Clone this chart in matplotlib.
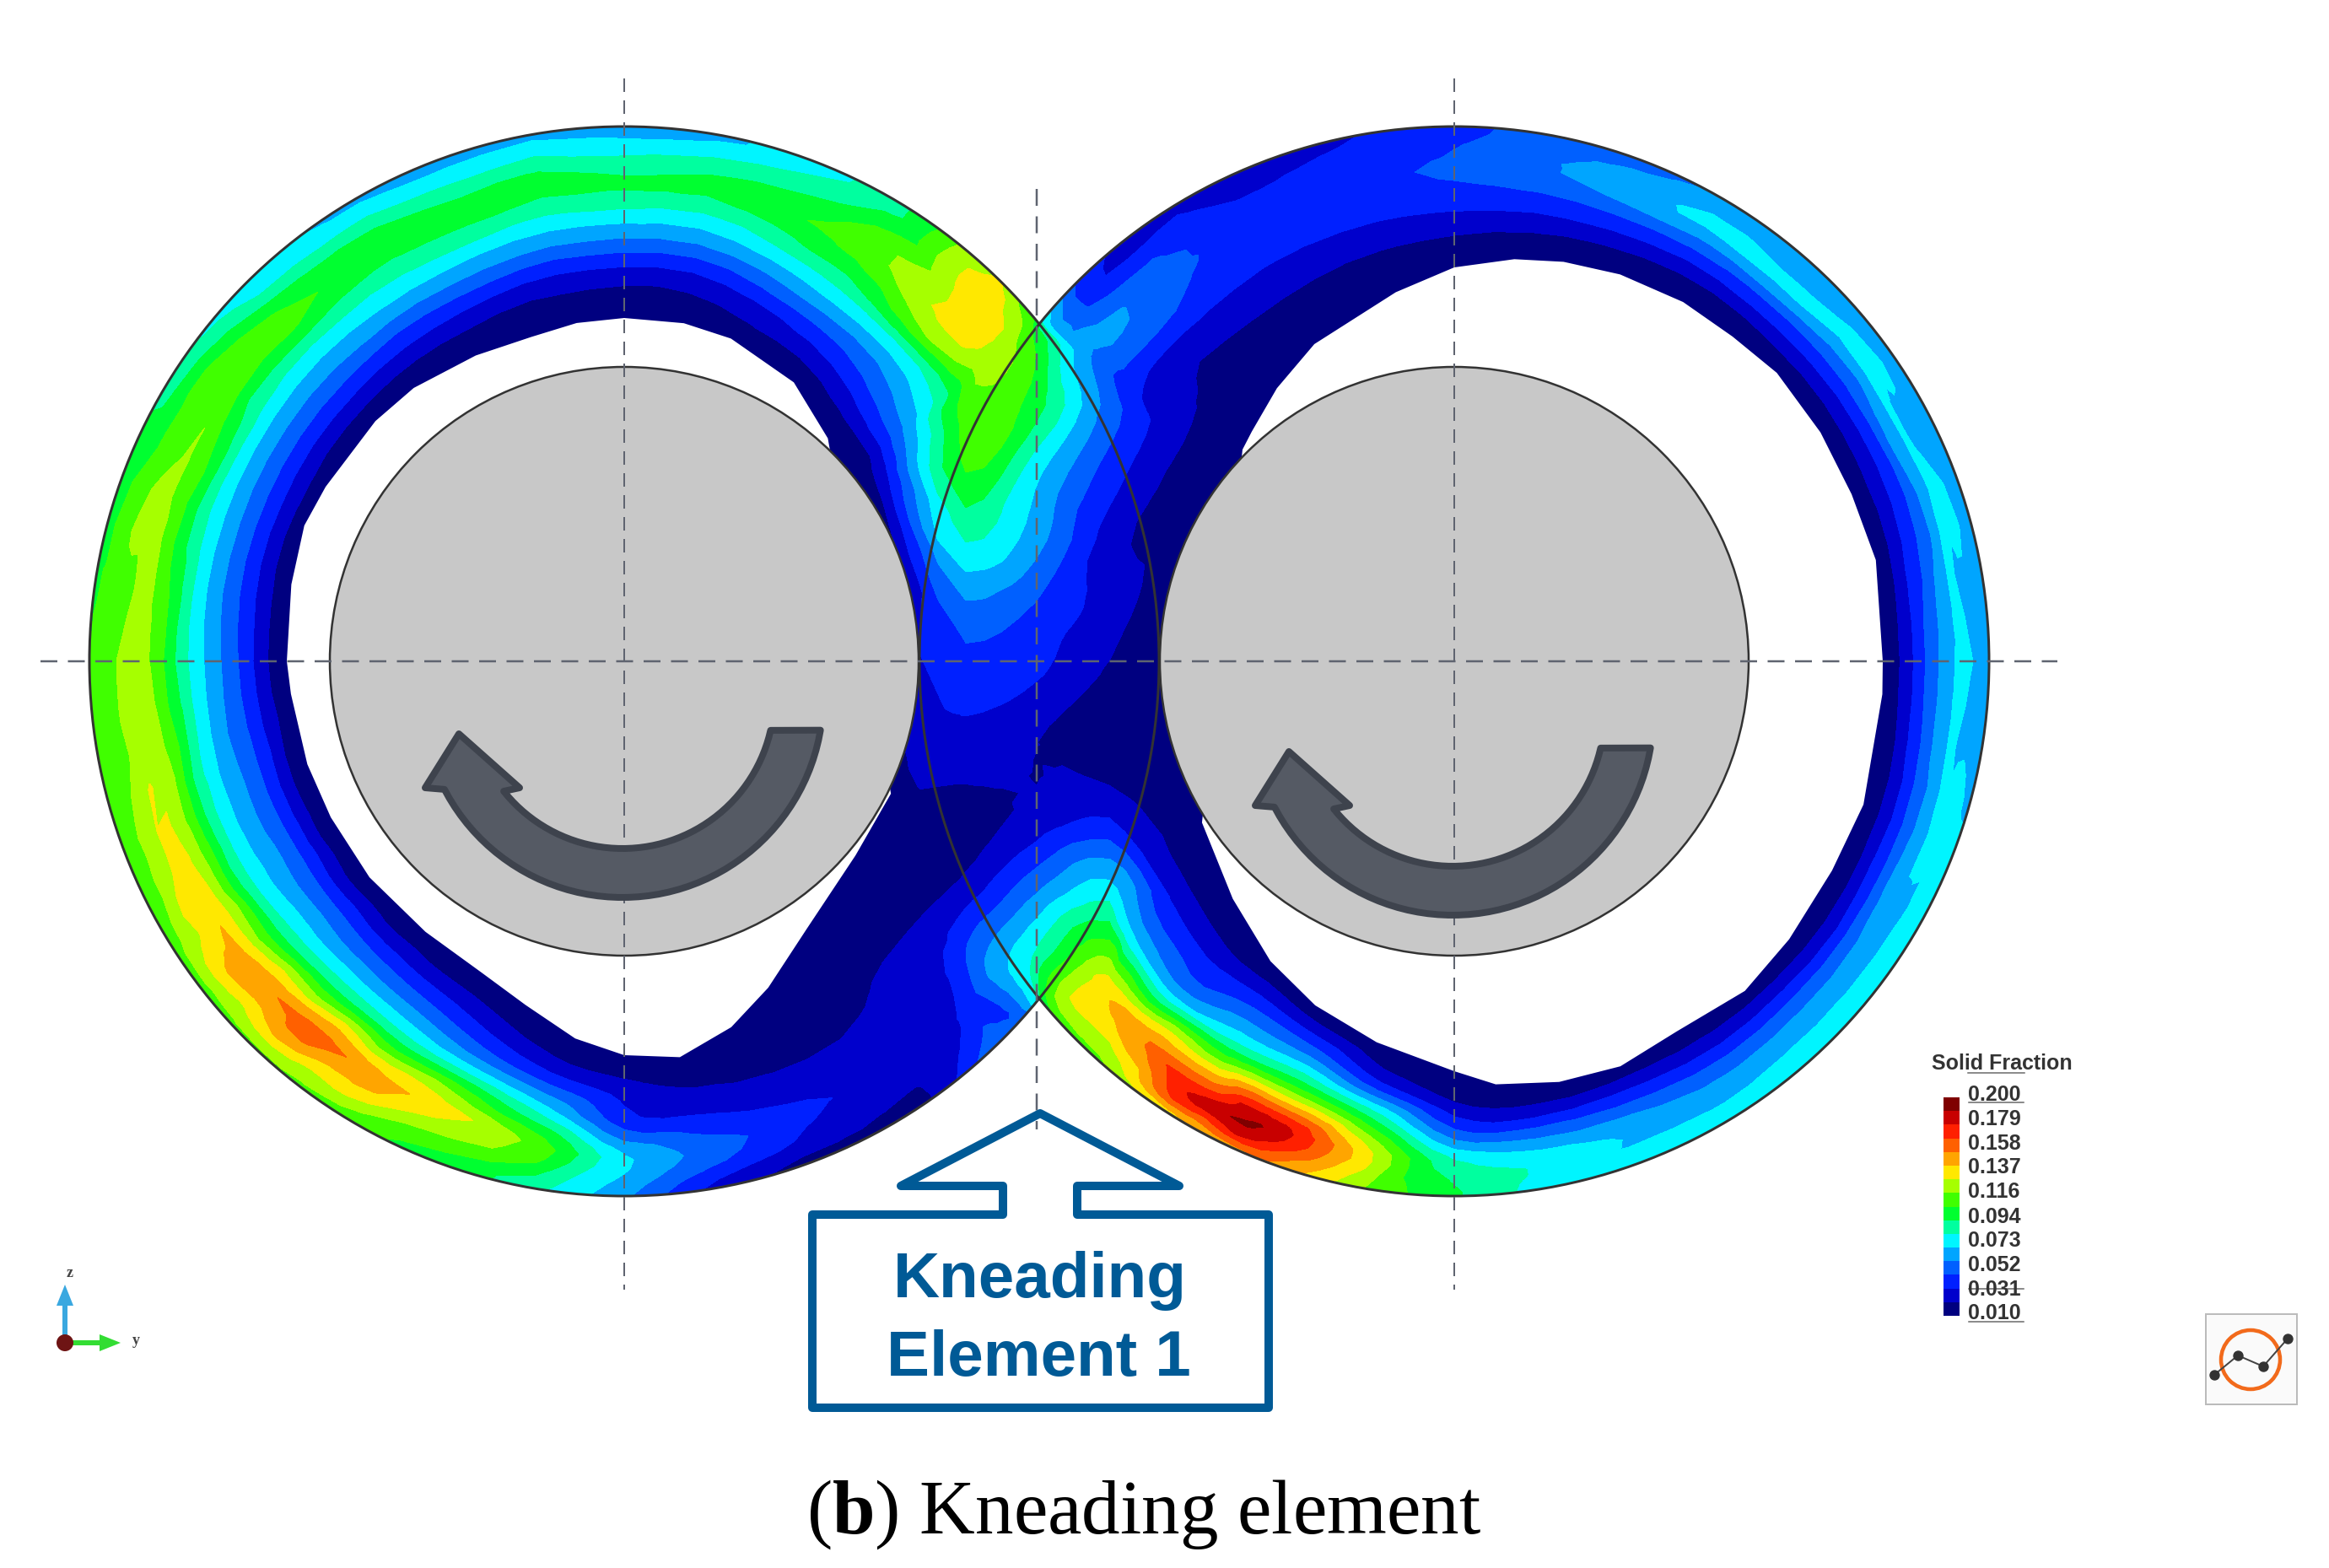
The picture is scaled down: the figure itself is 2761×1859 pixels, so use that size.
import numpy as np
import matplotlib
matplotlib.use("Agg")
import matplotlib.pyplot as plt
import matplotlib.tri as mtri
from matplotlib.colors import ListedColormap, BoundaryNorm
from matplotlib.patches import Circle, Polygon, Rectangle

plt.rcParams["font.family"] = ["Liberation Sans", "DejaVu Sans"]
plt.rcParams["mathtext.fontset"] = "custom"
plt.rcParams["mathtext.rm"] = "Liberation Serif"
plt.rcParams["mathtext.bf"] = "Liberation Serif:bold"

WIDTH, HEIGHT = 2761, 1859
PX = 0.72  # one picture pixel in points at dpi 100

# geometry, in pixels
left_cx, right_cx, mid_cx, cy = 740, 1724, 1229, 784
barrel_r, rotor_r = 634, 349

# *** solid fraction field ***
band_colors = ["#000080", "#0000cc", "#0020ff", "#0060ff", "#00a5ff", "#00f5ff",
               "#00ff9f", "#00ff30", "#40ff00", "#a6ff00", "#ffe800", "#ffa500",
               "#ff6000", "#ff2000", "#c80000", "#7f0000"]
band_edges = np.linspace(0.010, 0.200, 17)
legend_values = [0.200, 0.179, 0.158, 0.137, 0.116, 0.094, 0.073, 0.052, 0.031, 0.010]
legend_labels = ["0.200", "0.179", "0.158", "0.137", "0.116",
                 "0.094", "0.073", "0.052", "0.031", "0.010"]

# edge of the empty (white) zone, polar around each barrel centre
left_void_theta = [47.6, 58.7, 71.7, 80, 90, 98, 106, 115.9, 127.6, 136, 149.7, 157, 167, 180,
                   185.6, 198, 208, 220.3, 233.7, 245.4, 254, 262.6, 270, 278, 286.3,
                   293.8, 304.3, 320, 333.6]
left_void_r = [358, 387, 403, 407, 407, 405, 400, 403, 409, 410, 410, 412, 405, 400,
               397, 395, 394, 396, 398, 406, 424, 451, 467, 474, 452,
               423, 384, 358, 353]
right_void_theta = [135, 131.4, 123, 113.8, 99, 90, 81.5, 74.7, 66.8, 57.5, 49.4, 41.8,
                    32, 22.8, 13.5, 0, -4.4, -19.3, -29, -39.7, -48.6, -59, -67.7,
                    -76, -84.4, -90, -101.5, -112, -121.5, -133, -147.4]
right_void_r = [355, 363, 386, 411, 443, 467, 482, 491, 499, 505, 507, 513,
                512, 511, 514, 508, 509, 514, 512, 516, 521, 512, 519,
                514, 504, 486, 461, 440, 417, 385, 355]

# field values going from the void edge to the wall, at 0, 1/4, 1/2, 3/4, 1 of the gap
left_theta = [40, 60, 80, 100, 120, 140, 160, 180, 200, 210, 220, 230, 240, 260, 270, 280, 300, 320]
left_field = [
    [.010, .055, .090, .125, .105],
    [.010, .040, .082, .112, .085],
    [.010, .031, .069, .096, .066],
    [.010, .031, .070, .097, .066],
    [.010, .038, .076, .099, .066],
    [.010, .044, .078, .112, .078],
    [.010, .046, .081, .120, .100],
    [.010, .046, .081, .122, .105],
    [.010, .048, .080, .130, .108],
    [.010, .050, .082, .138, .110],
    [.010, .050, .088, .148, .112],
    [.010, .046, .090, .158, .115],
    [.010, .042, .085, .145, .108],
    [.010, .030, .072, .112, .085],
    [.010, .028, .042, .072, .060],
    [.010, .021, .036, .052, .030],
    [.010, .016, .022, .031, .018],
    [.010, .012, .032, .060, .072],
]
right_theta = [140, 120, 100, 80, 60, 40, 20, 0, -20, -40, -60, -80, -90, -100, -110, -120, -130, -140]
right_field = [
    [.010, .024, .036, .058, .075],
    [.010, .018, .034, .044, .030],
    [.010, .020, .036, .043, .034],
    [.010, .024, .043, .056, .050],
    [.010, .024, .048, .072, .058],
    [.010, .028, .050, .072, .060],
    [.010, .028, .048, .072, .062],
    [.010, .030, .055, .072, .062],
    [.010, .028, .052, .072, .070],
    [.010, .028, .052, .068, .074],
    [.010, .028, .050, .066, .074],
    [.010, .026, .055, .078, .076],
    [.010, .022, .050, .085, .095],
    [.010, .034, .090, .132, .118],
    [.010, .050, .105, .178, .150],
    [.010, .045, .088, .158, .140],
    [.010, .032, .064, .148, .118],
    [.010, .032, .072, .122, .100],
]
# hot spots of the right barrel: angle, radius, value
hot_theta = [-114.5, -109.6, -121, -136.7]
hot_r = [601, 594, 605, 563]
hot_value = [.190, .180, .178, .136]

# values between the two rotors, on a grid
centre_x = [1145, 1229, 1315]
centre_y = [400, 480, 560, 640, 720, 800, 880, 960, 1040, 1120, 1200]
centre_field = [
    [.133, .102, .060],
    [.110, .098, .052],
    [.105, .072, .040],
    [.082, .062, .028],
    [.055, .044, .028],
    [.040, .035, .020],
    [.030, .022, .012],
    [.018, .024, .030],
    [.023, .050, .068],
    [.045, .080, .108],
    [.036, .065, .140],
]

# *** kneading label outline ***
outline_x = [1233, 1398, 1277, 1277, 1504, 1504, 963, 963, 1189, 1189, 1068]
outline_y = [1320, 1406, 1406, 1440, 1440, 1669, 1669, 1440, 1440, 1406, 1406]


def barrel_nodes(cx, thetas, field, void_theta, void_r):
    order = np.argsort(void_theta)
    xs, ys, vs = [], [], []
    for i, (theta, values) in enumerate(zip(thetas, field)):
        t = np.radians(theta)
        r0 = np.interp(theta, np.array(void_theta)[order], np.array(void_r)[order])
        radii = list(r0 + (barrel_r - r0) * np.array([0, 0.25, 0.5, 0.75, 1.0]))
        vals = list(values)
        # outer ring so the hull covers the wall; not at the cusps, it would reach the other barrel
        if 0 < i < len(thetas) - 1:
            radii.append(barrel_r + 60)
            vals.append(values[-1])
        for r, v in zip(radii, vals):
            xs.append(cx + r * np.cos(t))
            ys.append(cy - r * np.sin(t))
            vs.append(v)
    return xs, ys, vs


def void_polygon(cx, void_theta, void_r):
    t = np.radians(void_theta)
    r = np.array(void_r)
    return np.column_stack([cx + r * np.cos(t), cy - r * np.sin(t)])


def arrow_polygon(x0, y0, outer=238, inner=180):
    a_out = np.radians(np.linspace(152.5, 9.6, 50))
    a_in = np.radians(np.linspace(12.8, 141.5, 50))
    px = [-194, -234] + list(outer * np.cos(a_out)) + list(inner * np.cos(a_in)) + [-122]
    py = [44, 108] + list(outer * np.sin(a_out)) + list(inner * np.sin(a_in)) + [108]
    return np.column_stack([x0 + np.array(px), y0 + np.array(py)])


def figure_eight():
    half = np.degrees(np.arccos((right_cx - left_cx) / 2 / barrel_r))
    a = np.radians(np.linspace(half, 360 - half, 200))
    b = np.radians(np.linspace(-180 + half, 180 - half, 200))
    x = np.concatenate([left_cx + barrel_r * np.cos(a), right_cx + barrel_r * np.cos(b)])
    y = np.concatenate([cy - barrel_r * np.sin(a), cy - barrel_r * np.sin(b)])
    return np.column_stack([x, y])


fig = plt.figure(figsize=(WIDTH / 100, HEIGHT / 100), dpi=100)
ax = fig.add_axes([0, 0, 1, 1])
ax.set_xlim(0, WIDTH)
ax.set_ylim(HEIGHT, 0)
ax.axis("off")

# field
lx, ly, lv = barrel_nodes(left_cx, left_theta, left_field, left_void_theta, left_void_r)
rx, ry, rv = barrel_nodes(right_cx, right_theta, right_field, right_void_theta, right_void_r)
gx, gy = np.meshgrid(centre_x, centre_y)
hx = right_cx + np.array(hot_r) * np.cos(np.radians(hot_theta))
hy = cy - np.array(hot_r) * np.sin(np.radians(hot_theta))
node_x = np.concatenate([lx, rx, gx.ravel(), hx])
node_y = np.concatenate([ly, ry, gy.ravel(), hy])
node_v = np.concatenate([lv, rv, np.array(centre_field).ravel(), hot_value])

tri = mtri.Triangulation(node_x, node_y)
refiner = mtri.UniformTriRefiner(tri)
smooth = mtri.CubicTriInterpolator(tri, node_v, kind="geom")
fine_tri, fine_v = refiner.refine_field(node_v, triinterpolator=smooth, subdiv=2)

cmap = ListedColormap(band_colors)
cmap.set_under(band_colors[0])
cmap.set_over(band_colors[-1])
norm = BoundaryNorm(band_edges, cmap.N)
clip = Polygon(figure_eight(), closed=True, transform=ax.transData)
cs = ax.tricontourf(fine_tri, fine_v, levels=band_edges, cmap=cmap, norm=norm, extend="both", zorder=1)
cs.set_clip_path(clip)

# empty zones, rotors, barrels
ax.add_patch(Polygon(void_polygon(left_cx, left_void_theta, left_void_r), color="white", lw=0, zorder=2))
ax.add_patch(Polygon(void_polygon(right_cx, right_void_theta, right_void_r), color="white", lw=0, zorder=2))
for cx in (left_cx, right_cx):
    ax.add_patch(Circle((cx, cy), rotor_r, fc="#c8c8c8", ec="#333333", lw=2.5 * PX, zorder=3))
    ax.add_patch(Circle((cx, cy), barrel_r, fc="none", ec="#333333", lw=3 * PX, zorder=4))

# centre lines
dash_style = dict(color="#5f6470", zorder=5, linestyle=(0, (8, 5)))
ax.plot([48, 2439], [cy, cy], lw=2.5 * PX, **dash_style)
ax.plot([left_cx, left_cx], [93, 1529], lw=2 * PX, **dash_style)
ax.plot([right_cx, right_cx], [93, 1529], lw=2 * PX, **dash_style)
ax.plot([mid_cx, mid_cx], [224, 1339], lw=2.5 * PX, **dash_style)

# rotation arrows
for x0, y0 in ((738, 826), (1722, 847)):
    ax.add_patch(Polygon(arrow_polygon(x0, y0), closed=True, fc="#555a64", ec="#3e434d",
                         lw=8 * PX, joinstyle="round", zorder=6))

# kneading element label
ax.add_patch(Polygon(np.column_stack([outline_x, outline_y]), closed=True, fc="none", ec="#005a96",
                     lw=10 * PX, joinstyle="round", zorder=7))
ax.text(1233, 1519, "Kneading", color="#005a96", fontsize=55, fontweight="bold", ha="center", va="center", zorder=7)
ax.text(1231, 1612, "Element 1", color="#005a96", fontsize=55, fontweight="bold", ha="center", va="center", zorder=7)

# caption
ax.text(1356, 1818, r"($\mathbf{b}$) Kneading element", fontsize=65.5, color="black", ha="center", va="baseline",
        family="Liberation Serif")

# legend
ax.text(2373, 1261, "Solid Fraction", fontsize=18, fontweight="bold", color="#333333", ha="center", va="center")
cax = fig.add_axes([2304 / WIDTH, 1 - 1560 / HEIGHT, 19 / WIDTH, 259 / HEIGHT])
cax.bar(0, np.diff(band_edges), bottom=band_edges[:-1], width=1, color=band_colors, linewidth=0)
cax.set_xlim(-0.5, 0.5)
cax.set_ylim(band_edges[0], band_edges[-1])
cax.axis("off")
for value, label in zip(legend_values, legend_labels):
    cax.text(1.55, value + 0.0020, label, fontsize=18, fontweight="bold", color="#333333",
             transform=cax.get_yaxis_transform(), ha="left", va="center", clip_on=False)
for x0, x1, y in ((2334, 2399, 1567), (2334, 2399, 1528), (2334, 2399, 1307), (2333, 2400, 1272)):
    ax.plot([x0, x1], [y, y], color="#666666", lw=1.5 * PX, zorder=7)

# axis triad
ax.arrow(77, 1592, 0, -69, width=6, head_width=20, head_length=25, length_includes_head=True,
         color="#3aa8e0", lw=0, zorder=6)
ax.arrow(77, 1592, 66, 0, width=6, head_width=20, head_length=25, length_includes_head=True,
         color="#33dd33", lw=0, zorder=6)
ax.add_patch(Circle((77, 1592), 10, fc="#6e1414", ec="none", zorder=7))
ax.text(83, 1510, "z", fontsize=13, fontweight="bold", family="Liberation Serif", color="#444444", ha="center", va="center")
ax.text(161, 1589, "y", fontsize=13, fontweight="bold", family="Liberation Serif", color="#444444", ha="center", va="center")

# site badge
ax.add_patch(Rectangle((2615, 1558), 108, 107, fc="#fafafa", ec="#bbbbbb", lw=2 * PX, zorder=2))
ax.add_patch(Circle((2668, 1612), 35, fc="none", ec="#f26a1b", lw=4.5 * PX, zorder=3))
badge_x = [2625, 2653, 2683, 2712]
badge_y = [1630, 1607, 1620, 1587]
ax.plot(badge_x, badge_y, color="#444444", lw=2 * PX, marker="o", ms=11 * PX,
        mfc="#333333", mec="#333333", zorder=4)

fig.savefig("out.png", dpi=100)
plt.close(fig)
